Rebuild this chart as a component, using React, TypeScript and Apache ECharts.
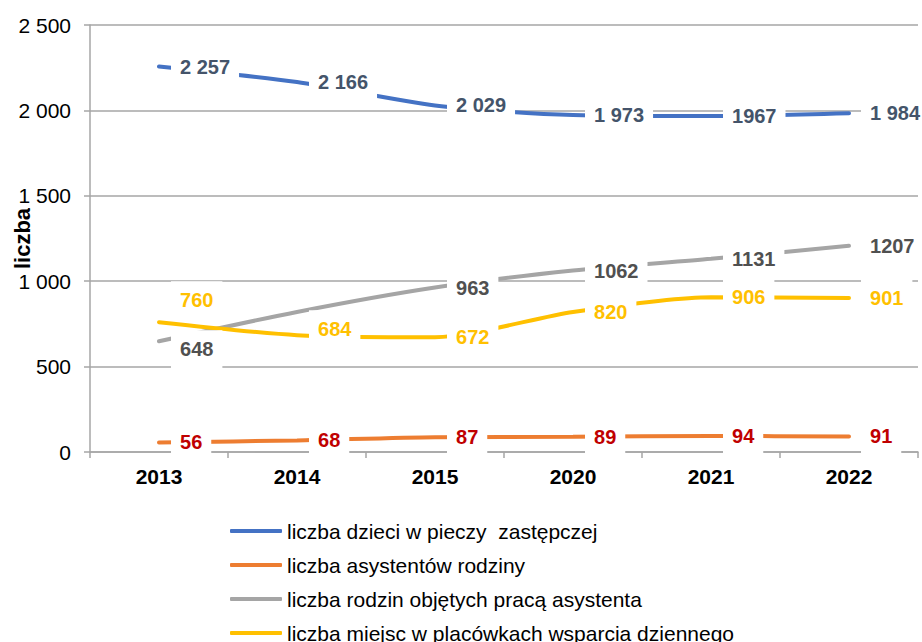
import React, { useEffect, useRef } from "react";
import * as echarts from "echarts";

const categories = ["2013", "2014", "2015", "2020", "2021", "2022"];

const dzieci = [2257, 2166, 2029, 1973, 1967, 1984];
const dzieciLabels = ["2 257", "2 166", "2 029", "1 973", "1967", "1 984"];

const asystenci = [56, 68, 87, 89, 94, 91];
const asystenciLabels = ["56", "68", "87", "89", "94", "91"];

const rodziny = [648, 820, 963, 1062, 1131, 1207];
const rodzinyLabels = ["648", "", "963", "1062", "1131", "1207"];

const miejsca = [760, 684, 672, 820, 906, 901];
const miejscaLabels = ["760", "684", "672", "820", "906", "901"];

const seriesNames = [
  "liczba dzieci w pieczy  zastępczej",
  "liczba asystentów rodziny",
  "liczba rodzin objętych pracą asystenta",
  "liczba miejsc w placówkach wsparcia dziennego",
];

const yTickValues = [0, 500, 1000, 1500, 2000, 2500];

const FONT = "'Liberation Sans', Arial, sans-serif";

function fmtThousands(v: number): string {
  if (v >= 1000) {
    const th = Math.floor(v / 1000);
    const rest = String(v % 1000).padStart(3, "0");
    return `${th} ${rest}`;
  }
  return String(v);
}

function buildData(
  values: number[],
  texts: string[],
  offsets: Record<number, number[]> = {}
) {
  return values.map((v, i) => ({
    value: v,
    label: {
      show: texts[i] !== "",
      formatter: texts[i],
      ...(offsets[i] ? { offset: offsets[i] } : {}),
    },
  }));
}

export default function App() {
  const ref = useRef<HTMLDivElement>(null);

  useEffect(() => {
    if (!ref.current) return;
    const chart = echarts.init(ref.current, null, { renderer: "svg" });

    const labelBase = (color: string) => ({
      show: true,
      position: "right",
      distance: 12,
      color,
      fontFamily: FONT,
      fontSize: 20,
      fontWeight: "bold",
      backgroundColor: "#ffffff",
      padding: [9, 9],
    });

    const mkSeries = (
      name: string,
      color: string,
      labelColor: string,
      data: any[]
    ) => ({
      name,
      type: "line",
      data,
      smooth: 0.25,
      symbol: "circle",
      symbolSize: 0.01,
      showSymbol: true,
      lineStyle: { color, width: 4, cap: "round" },
      itemStyle: { color },
      label: labelBase(labelColor),
      emphasis: { disabled: true },
    });

    const colors = ["#4472c4", "#ed7d31", "#a5a5a5", "#ffc000"];

    const option: any = {
      animation: false,
      textStyle: { fontFamily: FONT },
      grid: {
        left: 90,
        width: 828,
        top: 25,
        height: 427,
        containLabel: false,
        outerBoundsMode: "none",
      },
      legend: {
        orient: "vertical",
        left: 225,
        top: 515,
        itemWidth: 52,
        itemHeight: 4,
        itemGap: 12,
        icon: "roundRect",
        textStyle: {
          fontFamily: FONT,
          fontSize: 21,
          color: "#000000",
          lineHeight: 22,
        },
        data: seriesNames.map((n, i) => ({
          name: n,
          itemStyle: { color: colors[i] },
        })),
      },
      xAxis: {
        type: "category",
        data: categories,
        boundaryGap: true,
        axisLine: { show: true, lineStyle: { color: "#a6a6a6", width: 1.5 } },
        axisTick: { show: true, length: 6, lineStyle: { color: "#a6a6a6", width: 1.5 } },
        axisLabel: {
          color: "#000000",
          fontFamily: FONT,
          fontSize: 21,
          fontWeight: "bold",
          margin: 14,
        },
      },
      yAxis: {
        type: "value",
        min: yTickValues[0],
        max: yTickValues[yTickValues.length - 1],
        interval: 500,
        name: "liczba",
        nameLocation: "middle",
        nameGap: 57,
        nameMoveOverlap: false,
        nameTextStyle: {
          color: "#000000",
          fontFamily: FONT,
          fontSize: 22,
          fontWeight: "bold",
        },
        axisLine: { show: true, lineStyle: { color: "#a6a6a6", width: 1.5 } },
        axisTick: { show: true, length: 6, lineStyle: { color: "#a6a6a6", width: 1.5 } },
        splitLine: { show: true, lineStyle: { color: "#a6a6a6", width: 1.5 } },
        axisLabel: {
          color: "#000000",
          fontFamily: FONT,
          fontSize: 21,
          margin: 19,
          formatter: (v: number) => fmtThousands(v),
        },
      },
      series: [
        mkSeries(seriesNames[0], colors[0], "#44546a", buildData(dzieci, dzieciLabels)),
        mkSeries(seriesNames[1], colors[1], "#c00000", buildData(asystenci, asystenciLabels)),
        mkSeries(
          seriesNames[2],
          colors[2],
          "#505050",
          buildData(rodziny, rodzinyLabels, { 0: [0, 8] })
        ),
        mkSeries(
          seriesNames[3],
          colors[3],
          "#ffc000",
          buildData(miejsca, miejscaLabels, { 0: [0, -22], 1: [0, -6] })
        ),
      ],
    };

    chart.setOption(option);
    return () => chart.dispose();
  }, []);

  return (
    <div
      ref={ref}
      style={{ position: "absolute", left: 0, top: 0, width: 922, height: 680 }}
    />
  );
}
